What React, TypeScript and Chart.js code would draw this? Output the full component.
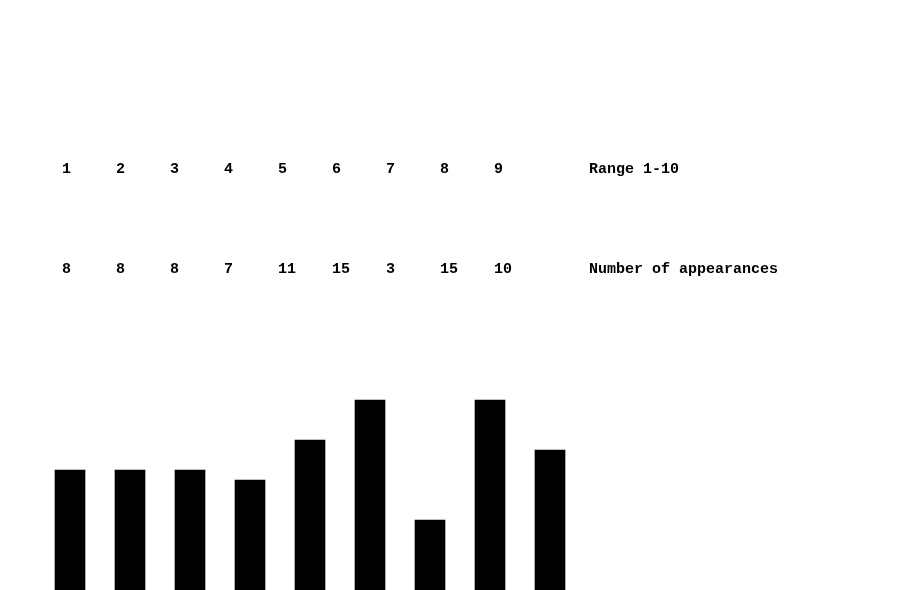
import React, { useEffect, useRef } from "react";
import { Chart, registerables } from "chart.js";

Chart.register(...registerables);

const categories = ["1", "2", "3", "4", "5", "6", "7", "8", "9"];
const appearances = [8, 8, 8, 7, 11, 15, 3, 15, 10];
const rangeLabel = "Range 1-10";
const countLabel = "Number of appearances";

const FONT = "bold 15px 'Liberation Mono', 'DejaVu Sans Mono', monospace";

const textRowsPlugin = {
  id: "textRows",
  afterDraw(chart: any) {
    const ctx = chart.ctx;
    ctx.save();
    ctx.font = FONT;
    ctx.fillStyle = "#000";
    ctx.textAlign = "left";
    ctx.textBaseline = "alphabetic";
    const colX = (i: number) => 62 + 54 * i;
    categories.forEach((c, i) => ctx.fillText(c, colX(i), 173));
    appearances.forEach((v, i) => ctx.fillText(String(v), colX(i), 273));
    ctx.fillText(rangeLabel, 589, 173);
    ctx.fillText(countLabel, 589, 273);
    ctx.restore();
  },
};

export default function App() {
  const ref = useRef<HTMLCanvasElement | null>(null);
  useEffect(() => {
    if (!ref.current) return;
    const chart = new Chart(ref.current, {
      type: "bar",
      data: {
        labels: categories,
        datasets: [
          {
            data: appearances,
            backgroundColor: "#000",
            borderWidth: 0,
            barThickness: 30,
            base: -4,
          } as any,
        ],
      },
      options: {
        animation: false,
        responsive: false,
        maintainAspectRatio: false,
        devicePixelRatio: 1,
        layout: { padding: { left: 40, right: 320, top: 0, bottom: 0 } },
        plugins: { legend: { display: false }, tooltip: { enabled: false } },
        scales: {
          x: { display: false, offset: true, grid: { display: false } },
          y: { display: false, min: -4, max: 55, grid: { display: false } },
        },
      },
      plugins: [textRowsPlugin],
    });
    return () => chart.destroy();
  }, []);
  return (
    <canvas
      ref={ref}
      width={900}
      height={590}
      style={{ position: "absolute", left: 0, top: 0, width: 900, height: 590 }}
    />
  );
}
